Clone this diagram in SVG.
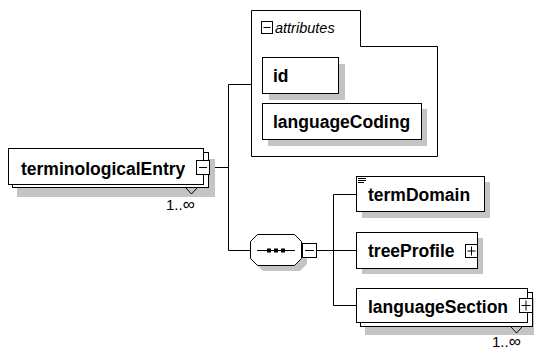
<svg xmlns="http://www.w3.org/2000/svg" width="534" height="352" viewBox="0 0 534 352">
<style>
.box{fill:#fff;stroke:#000;stroke-width:1}
.sh{fill:#c4c4c4;stroke:none}
.ln{fill:none;stroke:#000;stroke-width:1}
.lbl{font-family:"Liberation Sans",Arial,sans-serif;font-weight:bold;font-size:17.5px;fill:#000}
.occ{font-family:"Liberation Sans",Arial,sans-serif;font-size:15px;fill:#000}
.inf{font-size:17px}
.att{font-family:"Liberation Sans",Arial,sans-serif;font-style:italic;font-size:14.5px;fill:#000}
</style>
<rect width="534" height="352" fill="#fff"/>
<g id="connectors">
<polyline class="ln" points="210.5,167.5 228.5,167.5"/>
<polyline class="ln" points="251,84.5 228.5,84.5 228.5,250.5 250,250.5"/>
<polyline class="ln" points="317,250.5 356,250.5"/>
<polyline class="ln" points="356,194.5 333.5,194.5 333.5,305.5 356,305.5"/>
</g>
<g id="terminologicalEntry">
<rect class="sh" x="17" y="159" width="198" height="38"/>
<rect class="box" x="12.5" y="152.5" width="196" height="35"/>
<rect class="box" x="8.5" y="148.5" width="195" height="36"/>
<text class="lbl" x="21" y="175">terminologicalEntry</text>
<rect class="box" x="196.5" y="160.5" width="13" height="14"/>
<line class="ln" x1="199" y1="167.5" x2="207" y2="167.5"/>
<polyline class="ln" points="186,188 191.5,194 197,188"/>
<text class="occ" x="166" y="210">1..<tspan class="inf">∞</tspan></text>
</g>
<g id="attributes">
<polygon class="box" points="251.5,10.5 360.5,10.5 360.5,46.5 437.5,46.5 437.5,156.5 251.5,156.5"/>
<rect class="box" x="261.5" y="21.5" width="11" height="12"/>
<line class="ln" x1="263.5" y1="27.5" x2="270.5" y2="27.5"/>
<text class="att" x="275" y="33">attributes</text>
</g>
<g id="id">
<rect class="sh" x="269" y="64" width="76" height="36"/>
<rect class="box" x="262.5" y="57.5" width="76" height="36"/>
<text class="lbl" x="273" y="82">id</text>
</g>
<g id="languageCoding">
<rect class="sh" x="268" y="109" width="159" height="37"/>
<rect class="box" x="262.5" y="103.5" width="159" height="36"/>
<text class="lbl" x="273" y="128">languageCoding</text>
</g>
<g id="sequence">
<polygon class="sh" points="263,240 300,240 307,247 307,264 300,271 263,271 256,264 256,247"/>
<polygon class="box" points="257.5,234.5 294.5,234.5 301.5,241.5 301.5,258.5 294.5,265.5 257.5,265.5 250.5,258.5 250.5,241.5"/>
<line class="ln" x1="257" y1="250.5" x2="295" y2="250.5"/>
<rect x="267" y="248.5" width="4" height="4" fill="#000"/>
<rect x="274" y="248.5" width="4" height="4" fill="#000"/>
<rect x="281" y="248.5" width="4" height="4" fill="#000"/>
<rect class="box" x="302.5" y="243.5" width="14" height="14"/>
<line class="ln" x1="305" y1="250.5" x2="314" y2="250.5"/>
</g>
<g id="termDomain">
<rect class="sh" x="362" y="182" width="128" height="36"/>
<rect class="box" x="356.5" y="176.5" width="128" height="35"/>
<line class="ln" x1="358" y1="178.5" x2="366" y2="178.5"/>
<line class="ln" x1="358" y1="180.5" x2="366" y2="180.5"/>
<line class="ln" x1="358" y1="182.5" x2="364" y2="182.5"/>
<text class="lbl" x="368" y="201">termDomain</text>
</g>
<g id="treeProfile">
<rect class="sh" x="362" y="238" width="121" height="36"/>
<rect class="box" x="356.5" y="232.5" width="121" height="36"/>
<text class="lbl" x="368" y="257">treeProfile</text>
<rect class="box" x="465.5" y="244.5" width="12" height="13"/>
<line class="ln" x1="467.5" y1="251" x2="475.5" y2="251"/>
<line class="ln" x1="471.5" y1="246.5" x2="471.5" y2="255.5"/>
</g>
<g id="languageSection">
<rect class="sh" x="365" y="298" width="172" height="37"/>
<rect class="box" x="360.5" y="292.5" width="172" height="34"/>
<rect class="box" x="356.5" y="288.5" width="171" height="34"/>
<text class="lbl" x="368" y="313">languageSection</text>
<rect class="box" x="519.5" y="298.5" width="13" height="14"/>
<line class="ln" x1="521.5" y1="305.5" x2="530.5" y2="305.5"/>
<line class="ln" x1="526" y1="300.5" x2="526" y2="310.5"/>
<polyline class="ln" points="511,327 516.5,333 522,327"/>
<text class="occ" x="492" y="347">1..<tspan class="inf">∞</tspan></text>
</g>
</svg>
